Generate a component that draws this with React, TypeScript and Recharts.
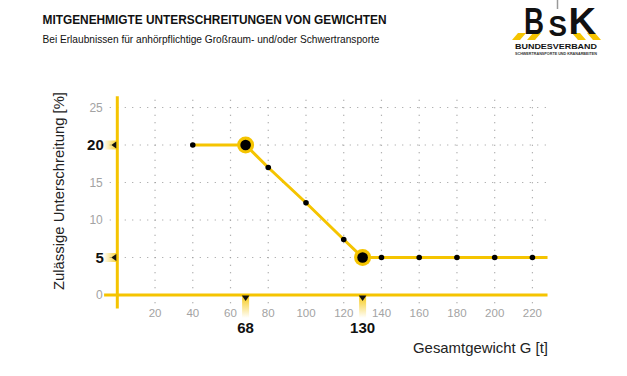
import React from "react";
import { ComposedChart, Line, XAxis, YAxis, ReferenceLine } from "recharts";

const W = 627;
const H = 376;
const YELLOW = "#F5C400";
const FONT = "'Liberation Sans', Arial, Helvetica, sans-serif";

// ---- data ----
const weights = [40, 68, 80, 100, 120, 130, 140, 160, 180, 200, 220];
const reductions = [20, 20, 17, 12.3, 7.4, 5, 5, 5, 5, 5, 5];
const lineEndWeight = 228;
const keyWeights = [68, 130];
const keyReductions = [20, 5];
const xTicks = [20, 40, 60, 80, 100, 120, 140, 160, 180, 200, 220];
const yTicks = [0, 5, 10, 15, 20, 25];
const xDomain: [number, number] = [0, 230];
const yDomain: [number, number] = [0, 26.5];
const xAxisStart = -7;
const yAxisStart = -1.8;
const gridLeft = -4;
const gridRight = 229.5;
const gridBottom = -1.1;

const title = "MITGENEHMIGTE UNTERSCHREITUNGEN VON GEWICHTEN";
const subtitle = "Bei Erlaubnissen für anhörpflichtige Großraum- und/oder Schwertransporte";
const yLabel = "Zulässige Unterschreitung [%]";
const xLabel = "Gesamtgewicht G [t]";

const data = [
  ...weights.map((w, i) => ({ weight: w, reduction: reductions[i], marker: true })),
  { weight: lineEndWeight, reduction: reductions[reductions.length - 1], marker: false },
];

const Dot = (props: any) => {
  const { cx, cy, payload, index } = props;
  if (!payload || !payload.marker) return <g key={`d-${index}`} />;
  if (keyWeights.includes(payload.weight)) {
    return (
      <g key={`d-${index}`}>
        <circle cx={cx} cy={cy} r={8.5} fill={YELLOW} />
        <circle cx={cx} cy={cy} r={5.3} fill="#000" />
      </g>
    );
  }
  return <circle key={`d-${index}`} cx={cx} cy={cy} r={2.8} fill="#000" />;
};

const XTick = (props: any) => {
  const { x, y, payload } = props;
  const v = payload.value;
  if (keyWeights.includes(v)) {
    const id = `gx-${v}`;
    return (
      <g>
        <defs>
          <linearGradient id={id} x1="0" y1="0" x2="0" y2="1">
            <stop offset="0%" stopColor={YELLOW} stopOpacity={0.9} />
            <stop offset="100%" stopColor={YELLOW} stopOpacity={0} />
          </linearGradient>
        </defs>
        <rect x={x - 3.5} y={y + 1} width={7} height={22} fill={`url(#${id})`} />
        <path d={`M${x - 3.8},${y + 0.5} L${x + 3.8},${y + 0.5} L${x},${y + 6} Z`} fill="#111" />
        <text x={x} y={y + 38} textAnchor="middle" fontFamily={FONT} fontWeight="bold" fontSize={15} fill="#111">
          {v}
        </text>
      </g>
    );
  }
  return (
    <text x={x} y={y + 22} textAnchor="middle" fontFamily={FONT} fontSize={11.5} fill="#a3a3a3">
      {v}
    </text>
  );
};

const YTick = (props: any) => {
  const { x, y, payload } = props;
  const v = payload.value;
  if (keyReductions.includes(v)) {
    const id = `gy-${v}`;
    return (
      <g>
        <defs>
          <linearGradient id={id} x1="0" y1="0" x2="1" y2="0">
            <stop offset="0%" stopColor={YELLOW} stopOpacity={0} />
            <stop offset="100%" stopColor={YELLOW} stopOpacity={0.75} />
          </linearGradient>
        </defs>
        <rect x={x - 14} y={y - 4.5} width={13} height={9} fill={`url(#${id})`} />
        <path d={`M${x - 1},${y - 3.5} L${x - 1},${y + 3.5} L${x - 6},${y} Z`} fill="#111" />
        <text x={x - 13.5} y={y + 5.3} textAnchor="end" fontFamily={FONT} fontWeight="bold" fontSize={15} fill="#111">
          {v}
        </text>
      </g>
    );
  }
  return (
    <text x={x - 14.5} y={y + 4} textAnchor="end" fontFamily={FONT} fontSize={12} fill="#a3a3a3">
      {v}
    </text>
  );
};

const Logo = () => (
  <g>
    <path d="M557.5,0 L557.5,9" stroke="#999" strokeWidth={1.5} />
    <path d="M512,40 L518,33 L526,33 L520,40 Z" fill={YELLOW} />
    <path d="M527,40 L533,33 L541,33 L535,40 Z" fill={YELLOW} />
    <path d="M572,33 L580,33 L586,40 L578,40 Z" fill={YELLOW} />
    <path d="M587,33 L595,33 L601,40 L593,40 Z" fill={YELLOW} />
    <text x={524} y={33.5} fontFamily={FONT} fontWeight="bold" fontSize={36} fill="#111" textLength={20} lengthAdjust="spacingAndGlyphs">B</text>
    <text x={548.5} y={35.5} fontFamily={FONT} fontWeight="bold" fontSize={30} fill="#111" textLength={18.5} lengthAdjust="spacingAndGlyphs">S</text>
    <text x={568.5} y={33.5} fontFamily={FONT} fontWeight="bold" fontSize={36} fill="#111" textLength={27.5} lengthAdjust="spacingAndGlyphs">K</text>
    <text x={515} y={49} fontFamily={FONT} fontWeight="bold" fontSize={8} fill="#111" textLength={82} lengthAdjust="spacingAndGlyphs">BUNDESVERBAND</text>
    <text x={515} y={54.5} fontFamily={FONT} fontWeight="bold" fontSize={3.5} fill="#333" textLength={82} lengthAdjust="spacingAndGlyphs">SCHWERTRANSPORTE UND KRANARBEITEN</text>
  </g>
);

export default function App() {
  const gridStyle = { stroke: "#9a9a9a", strokeWidth: 1.2, strokeDasharray: "1 6.5" };
  return (
    <div style={{ position: "absolute", left: 0, top: 0, width: W, height: H, background: "#fff" }}>
      <ComposedChart
        width={W}
        height={H}
        data={data}
        margin={{ top: 96.25, right: 75.7, bottom: 51, left: 57.3 }}
      >
        <XAxis
          dataKey="weight"
          type="number"
          domain={xDomain}
          ticks={[...xTicks, ...keyWeights]}
          axisLine={false}
          tickLine={false}
          tickSize={0}
          tickMargin={0}
          height={30}
          tick={<XTick />}
          interval={0}
        />
        <YAxis
          type="number"
          domain={yDomain}
          ticks={yTicks}
          axisLine={false}
          tickLine={false}
          tickSize={0}
          tickMargin={0}
          width={60}
          tick={<YTick />}
          interval={0}
        />
        {yTicks
          .filter((t) => t > 0)
          .map((t) => (
            <ReferenceLine
              key={`h-${t}`}
              segment={[{ x: gridLeft, y: t }, { x: gridRight, y: t }]}
              ifOverflow="visible"
              {...gridStyle}
            />
          ))}
        {xTicks.map((t) => (
          <ReferenceLine
            key={`v-${t}`}
            segment={[{ x: t, y: gridBottom }, { x: t, y: yDomain[1] }]}
            ifOverflow="visible"
            {...gridStyle}
          />
        ))}
        <ReferenceLine
          segment={[{ x: xAxisStart, y: 0 }, { x: lineEndWeight, y: 0 }]}
          ifOverflow="visible"
          stroke={YELLOW}
          strokeWidth={3}
        />
        <ReferenceLine
          segment={[{ x: 0, y: yAxisStart }, { x: 0, y: yDomain[1] }]}
          ifOverflow="visible"
          stroke={YELLOW}
          strokeWidth={3}
        />
        <Line
          dataKey="reduction"
          type="linear"
          stroke={YELLOW}
          strokeWidth={3}
          dot={Dot}
          activeDot={false}
          isAnimationActive={false}
        />
      </ComposedChart>
      <svg
        width={W}
        height={H}
        style={{ position: "absolute", left: 0, top: 0, pointerEvents: "none" }}
      >
        <text x={42.5} y={24} fontFamily={FONT} fontWeight="bold" fontSize={13.5} fill="#111" textLength={344} lengthAdjust="spacingAndGlyphs">
          {title}
        </text>
        <text x={42.5} y={42.5} fontFamily={FONT} fontSize={11.5} fill="#111" textLength={337} lengthAdjust="spacingAndGlyphs">
          {subtitle}
        </text>
        <text
          x={0}
          y={0}
          transform="translate(63.5,191) rotate(-90)"
          textAnchor="middle"
          fontFamily={FONT}
          fontSize={15}
          fill="#222"
          textLength={198}
          lengthAdjust="spacingAndGlyphs"
        >
          {yLabel}
        </text>
        <text x={548} y={352.5} textAnchor="end" fontFamily={FONT} fontSize={15} fill="#222" textLength={135} lengthAdjust="spacingAndGlyphs">
          {xLabel}
        </text>
        <Logo />
      </svg>
    </div>
  );
}
